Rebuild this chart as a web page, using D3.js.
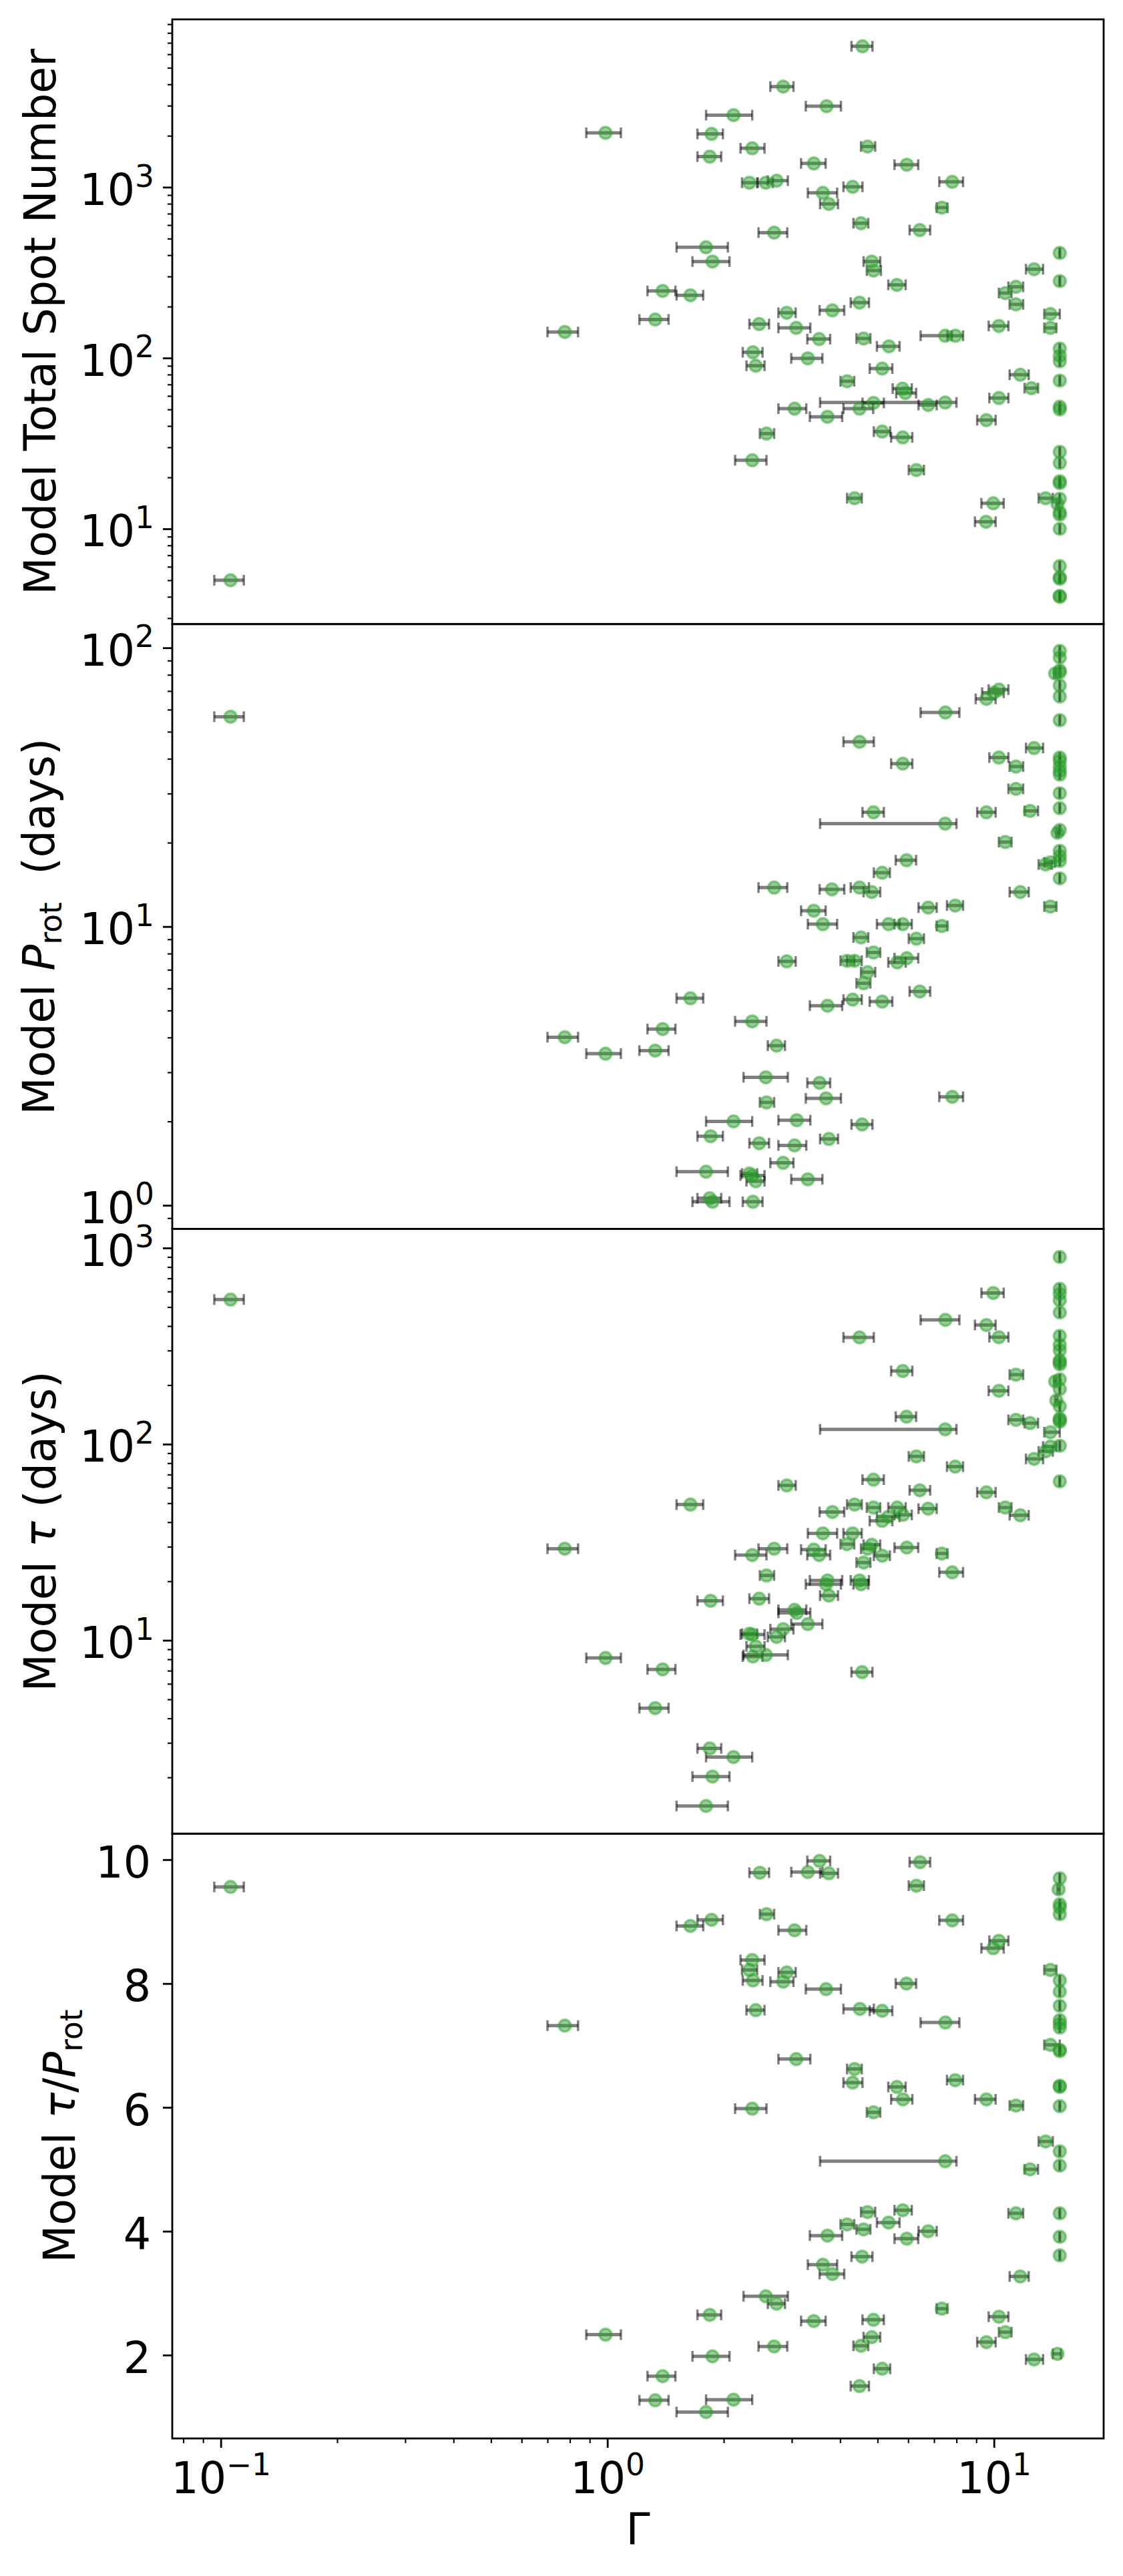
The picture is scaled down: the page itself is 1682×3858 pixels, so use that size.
<!DOCTYPE html>
<html>
<head>
<meta charset="utf-8">
<script src="https://cdnjs.cloudflare.com/ajax/libs/d3/7.8.5/d3.min.js"></script>
<style>
body { margin: 0; background: #fff; }
text { font-family: "DejaVu Sans", sans-serif; fill: #000; }
</style>
</head>
<body>
<div class="chart"></div>
<script>
// each row: [Gamma, Gamma lower, Gamma upper, model value]
var spotPoints = [
    [4.57,4.28,4.85,6680], [2.85,2.64,3.03,3880], [3.69,3.26,4.02,2980], [2.12,1.80,2.37,2640],
    [0.989,0.882,1.084,2080], [1.86,1.71,1.99,2050], [2.37,2.21,2.55,1690], [4.71,4.53,4.93,1730],
    [1.84,1.71,1.97,1510], [3.42,3.17,3.67,1377], [5.95,5.53,6.37,1354], [2.33,2.23,2.44,1062],
    [2.57,2.45,2.68,1062], [2.74,2.60,2.93,1092], [7.80,7.22,8.32,1075], [4.31,4.08,4.57,1005],
    [3.61,3.30,3.93,926], [3.74,3.55,3.95,798], [7.33,7.11,7.58,759], [4.53,4.33,4.73,615],
    [6.43,6.05,6.84,561], [2.70,2.46,2.92,542], [1.80,1.51,2.05,445], [1.87,1.66,2.07,367],
    [4.83,4.60,5.08,367], [4.88,4.69,5.10,325], [12.7,12.1,13.4,331], [5.61,5.33,5.91,268],
    [11.4,10.9,11.9,261], [10.7,10.3,11.1,240], [1.39,1.27,1.50,247], [1.64,1.51,1.77,233],
    [11.4,10.98,11.9,206], [4.49,4.26,4.75,211], [14.0,13.5,14.8,181], [2.91,2.77,3.07,184],
    [3.82,3.54,4.10,190], [1.33,1.21,1.44,168], [2.47,2.33,2.62,158], [3.08,2.77,3.35,150],
    [10.3,9.69,10.9,154], [14.0,13.5,14.5,150], [3.53,3.29,3.77,129], [4.60,4.41,4.79,130],
    [7.48,6.46,7.78,135], [7.95,7.58,8.32,135], [2.38,2.24,2.52,108], [2.42,2.29,2.55,90.1],
    [3.30,2.99,3.60,99.5], [5.35,4.98,5.70,117], [5.14,4.77,5.46,86.7], [11.7,10.98,12.3,79.8],
    [4.17,4.01,4.35,73.1], [12.5,12.0,13.0,66.6], [5.80,5.47,6.13,66.2], [5.90,5.59,6.29,62.3],
    [10.3,9.73,10.9,58.3], [3.05,2.77,3.27,50.5], [4.88,4.57,5.19,54.6], [4.49,4.08,4.87,50.5],
    [6.76,6.38,7.11,53.1], [7.48,3.55,8.00,54.9], [3.71,3.34,4.05,45.3], [9.56,9.05,10.1,43.3],
    [2.58,2.48,2.70,36.1], [5.14,4.89,5.39,37.1], [5.81,5.42,6.15,34.3], [2.37,2.14,2.58,25.2],
    [6.30,6.02,6.59,22.1], [13.6,13.05,14.2,15.1], [4.36,4.17,4.55,15.1], [9.96,9.28,10.6,14.1],
    [9.54,8.93,10.1,11.0], [14.6,14.5,14.7,14.0], [0.776,0.70,0.84,142], [0.106,0.0962,0.1147,5.0]
];
var protPoints = [
    [10.3,9.69,10.9,70.8], [10.0,9.32,10.6,69.0], [9.56,8.97,10.1,65.6], [7.49,6.46,8.14,58.6],
    [4.49,4.08,4.89,46.0], [12.7,12.1,13.4,43.7], [10.3,9.73,10.9,40.4], [5.81,5.42,6.15,38.4],
    [11.4,10.98,11.9,37.5], [11.4,10.9,11.9,31.2], [4.88,4.57,5.19,25.7], [7.48,3.55,8.00,23.4],
    [9.56,9.05,10.1,25.7], [12.4,12.0,13.0,26.0], [10.7,10.3,11.1,20.1], [5.94,5.57,6.29,17.3],
    [5.14,4.89,5.38,15.6], [2.70,2.46,2.92,13.8], [3.81,3.54,4.10,13.6], [4.49,4.26,4.75,13.8],
    [4.83,4.60,5.08,13.3], [11.7,10.98,12.3,13.3], [3.42,3.17,3.67,11.4], [6.76,6.38,7.11,11.7],
    [7.94,7.56,8.32,11.9], [14.0,13.5,14.5,11.8], [3.61,3.30,3.93,10.2], [5.34,4.98,5.70,10.2],
    [5.81,5.53,6.13,10.2], [7.33,7.11,7.58,10.05], [4.53,4.33,4.73,9.14], [6.30,6.02,6.59,9.05],
    [4.88,4.69,5.08,8.07], [2.91,2.77,3.07,7.50], [4.17,4.01,4.35,7.54], [4.36,4.17,4.55,7.54],
    [5.62,5.33,5.91,7.44], [5.95,5.53,6.37,7.70], [4.71,4.53,4.93,6.86], [4.60,4.41,4.79,6.26],
    [6.43,6.05,6.84,5.85], [1.64,1.51,1.77,5.53], [4.31,4.08,4.55,5.47], [5.14,4.77,5.46,5.38],
    [3.71,3.34,4.05,5.20], [2.37,2.14,2.58,4.57], [0.776,0.70,0.84,4.01], [1.39,1.27,1.50,4.29],
    [0.989,0.882,1.084,3.50], [1.33,1.21,1.44,3.59], [2.74,2.60,2.88,3.74], [2.57,2.25,2.93,2.88],
    [3.54,3.29,3.77,2.75], [7.80,7.22,8.32,2.45], [3.68,3.26,4.02,2.42], [2.58,2.48,2.70,2.34],
    [2.12,1.80,2.37,2.00], [3.09,2.77,3.35,2.02], [4.56,4.28,4.85,1.95], [1.85,1.71,1.99,1.77],
    [2.47,2.33,2.62,1.67], [3.05,2.77,3.27,1.64], [3.74,3.55,3.95,1.73], [2.85,2.64,3.03,1.42],
    [1.80,1.51,2.05,1.32], [2.33,2.23,2.44,1.30], [2.37,2.21,2.55,1.28], [2.42,2.29,2.55,1.22],
    [3.30,2.99,3.60,1.24], [1.84,1.71,1.97,1.06], [1.87,1.66,2.07,1.03], [2.38,2.24,2.52,1.03],
    [14.0,13.5,14.4,17.0], [13.6,13.05,14.1,16.7], [14.4,14.3,14.5,80.9], [14.6,14.5,14.7,21.7],
    [0.106,0.0962,0.1147,56.6]
];
var tauPoints = [
    [9.96,9.28,10.6,590], [7.49,6.46,8.14,430], [9.56,8.93,10.1,405], [10.3,9.73,10.9,351],
    [4.49,4.08,4.89,350], [5.81,5.42,6.15,236], [11.4,10.98,11.9,226], [10.3,9.69,10.9,187],
    [5.94,5.57,6.29,138], [7.48,3.55,8.00,119], [11.4,10.9,11.9,133], [12.4,12.0,13.0,128],
    [6.30,6.02,6.59,86.6], [7.94,7.56,8.32,76.8], [4.88,4.57,5.19,65.9], [2.91,2.77,3.07,61.6],
    [6.43,6.05,6.84,58.2], [9.56,9.05,10.1,56.8], [1.64,1.51,1.77,49.2], [4.36,4.17,4.55,49.2],
    [4.88,4.69,5.08,47.5], [5.62,5.33,5.91,47.5], [6.76,6.38,7.11,46.9], [3.82,3.54,4.10,45.1],
    [10.7,10.3,11.1,47.5], [11.7,10.98,12.3,43.4], [5.82,5.53,6.13,43.6], [5.33,4.98,5.70,42.6],
    [5.14,4.77,5.46,40.6], [3.61,3.30,3.93,35.1], [4.31,4.08,4.55,35.1], [4.17,4.01,4.35,30.9],
    [4.83,4.60,5.08,30.7], [5.95,5.53,6.37,29.7], [2.70,2.46,2.92,29.3], [0.776,0.70,0.84,29.3],
    [3.42,3.17,3.67,29.0], [4.71,4.53,4.93,29.3], [2.37,2.14,2.58,27.2], [3.53,3.29,3.77,27.2],
    [5.14,4.89,5.38,27.0], [7.33,7.11,7.58,27.7], [4.60,4.41,4.79,24.9], [7.80,7.22,8.32,22.2],
    [2.58,2.48,2.70,21.4], [3.71,3.34,4.05,20.2], [3.68,3.26,4.02,19.3], [4.49,4.26,4.75,20.2],
    [4.53,4.33,4.73,19.3], [3.74,3.55,3.95,16.9], [1.85,1.71,1.99,15.9], [2.47,2.33,2.62,16.3],
    [3.05,2.77,3.27,14.3], [3.09,2.77,3.35,13.8], [3.30,2.99,3.60,12.1], [2.85,2.64,3.03,11.4],
    [2.74,2.60,2.88,10.4], [2.33,2.23,2.44,10.8], [2.37,2.21,2.55,10.7], [2.42,2.29,2.55,9.31],
    [2.38,2.24,2.52,8.26], [2.57,2.25,2.93,8.42], [0.989,0.882,1.084,8.13], [1.39,1.27,1.50,7.11],
    [4.56,4.28,4.85,6.88], [1.33,1.21,1.44,4.51], [1.84,1.71,1.97,2.81], [2.12,1.80,2.37,2.54],
    [1.87,1.66,2.07,2.02], [1.80,1.51,2.05,1.43], [14.0,13.5,14.8,115], [13.6,13.05,14.2,91.8],
    [14.0,13.4,14.5,97.2], [12.7,12.1,13.4,84.1], [14.4,14.3,14.5,209], [14.5,14.4,14.6,167],
    [0.106,0.0962,0.1147,546]
];
var ratioPoints = [
    [3.54,3.29,3.77,9.98], [6.44,6.05,6.84,9.96], [2.48,2.33,2.62,9.79], [3.30,2.99,3.60,9.80],
    [3.74,3.55,3.95,9.78], [6.30,6.02,6.59,9.58], [2.58,2.48,2.70,9.12], [1.86,1.71,1.99,9.03],
    [1.64,1.51,1.77,8.93], [7.80,7.22,8.32,9.02], [3.05,2.77,3.27,8.86], [10.3,9.73,10.9,8.69],
    [9.96,9.28,10.6,8.57], [2.37,2.21,2.55,8.38], [2.33,2.23,2.44,8.22], [2.91,2.77,3.07,8.18],
    [2.38,2.24,2.52,8.05], [2.85,2.64,3.03,8.03], [5.94,5.57,6.29,8.00], [3.68,3.26,4.02,7.91],
    [2.42,2.29,2.55,7.57], [4.50,4.08,4.89,7.59], [5.14,4.77,5.46,7.56], [7.49,6.46,8.14,7.37],
    [3.08,2.77,3.35,6.78], [4.36,4.17,4.55,6.62], [4.31,4.08,4.57,6.40], [7.94,7.56,8.32,6.44],
    [5.61,5.33,5.91,6.33], [5.82,5.42,6.15,6.13], [9.56,8.93,10.1,6.13], [11.4,10.98,11.9,6.03],
    [2.37,2.14,2.58,5.98], [4.88,4.69,5.08,5.92], [7.48,3.55,8.00,5.13], [12.4,12.0,13.0,5.00],
    [11.4,10.9,11.9,4.29], [4.71,4.53,4.93,4.31], [5.81,5.53,6.13,4.34], [4.17,4.01,4.35,4.11],
    [5.34,4.98,5.70,4.14], [4.60,4.41,4.79,4.03], [6.76,6.38,7.11,4.00], [3.71,3.34,4.05,3.93],
    [5.95,5.53,6.37,3.88], [4.56,4.28,4.85,3.59], [3.61,3.30,3.93,3.46], [3.82,3.54,4.10,3.31],
    [11.7,10.98,12.3,3.27], [2.57,2.25,2.93,2.95], [2.74,2.60,2.88,2.83], [1.84,1.71,1.97,2.65],
    [7.33,7.11,7.58,2.75], [3.42,3.17,3.67,2.55], [4.88,4.57,5.19,2.57], [10.3,9.69,10.9,2.62],
    [0.989,0.882,1.084,2.33], [10.7,10.3,11.1,2.37], [4.83,4.60,5.08,2.29], [2.70,2.46,2.92,2.14],
    [4.53,4.33,4.73,2.15], [9.56,9.05,10.1,2.21], [1.87,1.66,2.07,1.98], [12.7,12.1,13.4,1.93],
    [5.14,4.89,5.39,1.78], [1.39,1.27,1.50,1.66], [4.49,4.26,4.75,1.50], [1.33,1.21,1.44,1.27],
    [2.12,1.80,2.37,1.28], [1.80,1.51,2.05,1.08], [14.0,13.5,14.5,8.22], [14.0,13.5,14.8,7.01],
    [13.6,13.05,14.2,5.45], [14.6,14.2,14.9,2.02], [14.7,14.6,14.8,9.52], [0.106,0.0962,0.1147,9.56],
    [0.776,0.70,0.84,7.32]
];

// stars that sit at the upper Gamma limit
var gammaCap = 14.8, gammaCapLo = 14.76, gammaCapHi = 14.84;
var spotCapped = [412, 282, 113.5, 103, 95.7, 73.8, 51.9, 50, 28.2, 24.3, 18.5, 19, 15.0, 12.1, 12.5, 10, 6.05, 5.1, 5.2, 4.0, 4.05];
var protCapped = [97.5, 92.3, 83.0, 81.6, 73.3, 66.9, 55.0, 40.4, 39.3, 37.5, 36.1, 35.1, 30.1, 26.6, 22.2, 18.7, 17.9, 17.2, 14.9];
var tauCapped = [900, 619, 585, 541, 469, 356, 321, 301, 267, 255, 262, 214, 191, 156, 135, 130, 133, 98.2, 64.6];
var ratioCapped = [9.70, 9.28, 9.23, 9.12, 8.05, 7.87, 7.64, 7.41, 7.35, 7.29, 6.93, 6.91, 6.35, 6.33, 6.02, 5.29, 5.06, 4.29, 3.91, 3.61];

var ratioTicks = [2, 4, 6, 8, 10];
var xMajorTicks = [0.1, 1, 10];

var width = 1682, height = 3858;
var marginLeft = 258, marginRight = 29, marginTop = 29, plotBottom = 3652;
var panelHeight = (plotBottom - marginTop) / 4;
var fontSize = 65;
var green = '#2ca02c';

var svg = d3.select('.chart')
    .append('svg')
    .attr('width', width)
    .attr('height', height);

var x = d3.scaleLog()
    .domain([0.0749, 19.22])
    .range([marginLeft, width - marginRight]);

var panels = [
    {points: spotPoints, capped: spotCapped, log: true, domain: [2.767, 9603], pad: 13, labelX: 83,
     label: [['Model Total Spot Number']]},
    {points: protPoints, capped: protCapped, log: true, domain: [0.823, 121.6], pad: 13, labelX: 81,
     label: [['Model '], ['P', 'it'], ['rot', 'sub'], ['  (days)', 'unsub']]},
    {points: tauPoints, capped: tauCapped, log: true, domain: [1.033, 1251], pad: 13, labelX: 83,
     label: [['Model '], ['\u03c4', 'it'], [' (days)']]},
    {points: ratioPoints, capped: ratioCapped, log: false, domain: [0.654, 10.42], pad: 18, labelX: 112,
     label: [['Model '], ['\u03c4', 'it'], ['/'], ['P', 'it'], ['rot', 'sub']]}
];

panels.forEach(drawPanel);
drawXAxis();

function powerLabel(sel, d){
    var e = Math.round(Math.log10(d));
    sel.text(null);
    sel.append('tspan').text('10');
    sel.append('tspan')
        .attr('font-size', fontSize * 0.7)
        .attr('dy', -fontSize * 0.42)
        .text(e < 0 ? '\u2212' + (-e) : e);
}

function drawPanel(p, i){
    var top = marginTop + i * panelHeight;
    var y = (p.log ? d3.scaleLog() : d3.scaleLinear())
        .domain(p.domain)
        .range([top + panelHeight, top]);

    var g = svg.append('g').attr('class', 'panel');

    // rows at the Gamma limit share one x value
    var rows = p.points.concat(p.capped.map(function(v){ return [gammaCap, gammaCapLo, gammaCapHi, v]; }));

    // error bars
    var bars = g.append('g')
        .attr('stroke', '#000')
        .attr('stroke-opacity', 0.5);
    bars.selectAll('line.bar')
        .data(rows)
        .enter().append('line')
        .attr('class', 'bar')
        .attr('x1', function(d){ return x(d[1]); })
        .attr('x2', function(d){ return x(d[2]); })
        .attr('y1', function(d){ return y(d[3]); })
        .attr('y2', function(d){ return y(d[3]); })
        .attr('stroke-width', 5);
    [1, 2].forEach(function(k){
        bars.selectAll('line.cap' + k)
            .data(rows)
            .enter().append('line')
            .attr('class', 'cap' + k)
            .attr('x1', function(d){ return x(d[k]); })
            .attr('x2', function(d){ return x(d[k]); })
            .attr('y1', function(d){ return y(d[3]) - 8; })
            .attr('y2', function(d){ return y(d[3]) + 8; })
            .attr('stroke-width', 3.5);
    });

    // markers
    g.append('g').selectAll('circle')
        .data(rows)
        .enter().append('circle')
        .attr('cx', function(d){ return x(d[0]); })
        .attr('cy', function(d){ return y(d[3]); })
        .attr('r', 9)
        .style('fill', green)
        .style('fill-opacity', 0.5)
        .style('stroke', green)
        .style('stroke-opacity', 0.5)
        .style('stroke-width', 3.5);

    // y axis
    var major, minor = [];
    if (p.log){
        var all = y.ticks();
        major = all.filter(function(d){ return Math.abs(Math.log10(d) - Math.round(Math.log10(d))) < 1e-9; });
        minor = all.filter(function(d){ return major.indexOf(d) < 0; });
    } else {
        major = ratioTicks;
    }

    var yAxis = g.append('g')
        .attr('transform', 'translate(' + marginLeft + ',0)')
        .call(d3.axisLeft(y).tickValues(major).tickSize(14).tickPadding(p.pad));
    yAxis.select('.domain').remove();
    yAxis.attr('font-size', fontSize).attr('font-family', null);
    yAxis.selectAll('.tick line').attr('stroke-width', 2.8);
    yAxis.selectAll('.tick text').attr('dy', '0.4em');
    if (p.log){
        yAxis.selectAll('.tick text').each(function(d){ powerLabel(d3.select(this), d); });
    }

    if (minor.length){
        var yMinor = g.append('g')
            .attr('transform', 'translate(' + marginLeft + ',0)')
            .call(d3.axisLeft(y).tickValues(minor).tickSize(7).tickFormat(''));
        yMinor.select('.domain').remove();
        yMinor.selectAll('.tick line').attr('stroke-width', 2.1);
    }

    // y label
    var lab = g.append('text')
        .attr('transform', 'translate(' + p.labelX + ',' + (top + panelHeight / 2) + ') rotate(-90)')
        .attr('text-anchor', 'middle')
        .attr('font-size', fontSize)
        .style('white-space', 'pre');
    var shifted = false;
    p.label.forEach(function(part){
        var t = lab.append('tspan').text(part[0]);
        if (part[1] === 'it') t.attr('font-style', 'italic');
        if (part[1] === 'sub'){
            t.attr('font-size', fontSize * 0.7).attr('dy', fontSize * 0.17);
            shifted = true;
        } else if (shifted){
            t.attr('dy', -fontSize * 0.17);
            shifted = false;
        }
    });

    // frame
    g.append('rect')
        .attr('x', marginLeft)
        .attr('y', top)
        .attr('width', width - marginRight - marginLeft)
        .attr('height', panelHeight)
        .attr('fill', 'none')
        .attr('stroke', '#000')
        .attr('stroke-width', 2.8);
}

function drawXAxis(){
    var minor = x.ticks().filter(function(d){ return xMajorTicks.indexOf(d) < 0; });

    var xAxis = svg.append('g')
        .attr('transform', 'translate(0,' + plotBottom + ')')
        .call(d3.axisBottom(x).tickValues(xMajorTicks).tickSize(14));
    xAxis.select('.domain').remove();
    xAxis.attr('font-size', fontSize).attr('font-family', null);
    xAxis.selectAll('.tick line').attr('stroke-width', 2.8);
    xAxis.selectAll('.tick text')
        .attr('y', 82)
        .attr('dy', 0)
        .each(function(d){ powerLabel(d3.select(this), d); });

    var xMinor = svg.append('g')
        .attr('transform', 'translate(0,' + plotBottom + ')')
        .call(d3.axisBottom(x).tickValues(minor).tickSize(7).tickFormat(''));
    xMinor.select('.domain').remove();
    xMinor.selectAll('.tick line').attr('stroke-width', 2.1);

    svg.append('text')
        .attr('x', (marginLeft + width - marginRight) / 2)
        .attr('y', 3811)
        .attr('text-anchor', 'middle')
        .attr('font-size', fontSize)
        .text('\u0393');
}
</script>
</body>
</html>
